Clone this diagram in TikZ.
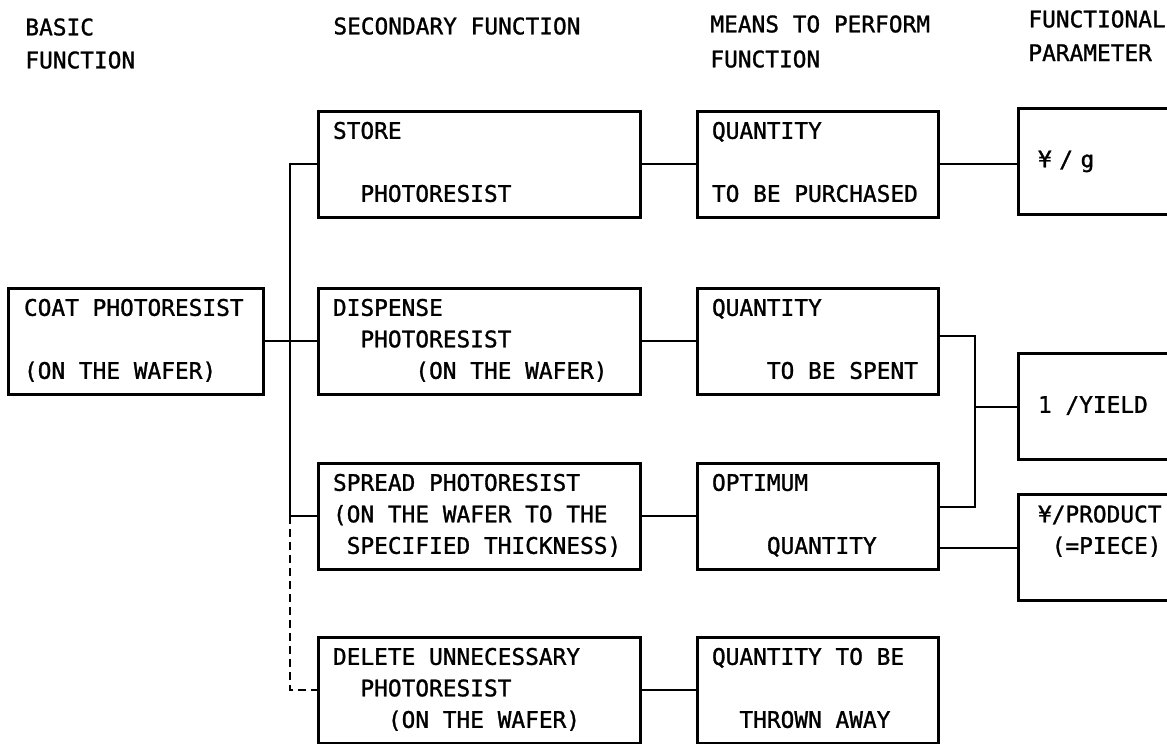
\documentclass[tikz,border=0pt]{standalone}
\usepackage{fontspec}
\usepackage{tikz}
\newfontfamily\dgmfont{DejaVu Sans Mono}[FakeBold=1.2]
\newcommand\ind[1]{\hspace*{#1\fontcharwd\font`\X}}
\newcommand\threelines[3]{\noindent\spaceskip=0pt\xspaceskip=0pt\strut#1\\\strut#2\\\strut#3}

\begin{document}
\begin{tikzpicture}[x=0.5pt, y=-0.5pt,
    head/.style={font=\dgmfont\fontsize{11.4pt}{16.5pt}\selectfont, inner sep=0pt, anchor=north west},
    box/.style={draw, line width=1.5pt, inner ysep=0pt, minimum height=53pt, align=left,
      font=\dgmfont\fontsize{11.4pt}{15.75pt}\selectfont},
    basicbox/.style={box, inner xsep=8pt, text width=111.5pt},
    secbox/.style={box, inner xsep=7.5pt, text width=146pt},
    meanbox/.style={box, inner xsep=7.5pt, text width=105.5pt},
    parbox/.style={box, inner xsep=10pt, text width=80pt},
    link/.style={line width=1pt},
    dashlink/.style={line width=1pt, dash pattern=on 4pt off 2.5pt}]
    \useasboundingbox (0,0) rectangle (1167,744);
    \clip (0,0) rectangle (1167,744);

    \node[head] (hbasic) at (25,18) {BASIC};
    \node[head] (hbasic2) at (25,51) {FUNCTION};
    \node[head] (hsecond) at (333,17) {SECONDARY FUNCTION};
    \node[head] (hmeans) at (710,15) {MEANS TO PERFORM};
    \node[head] (hmeans2) at (710,50) {FUNCTION};
    \node[head] (hparam) at (1028,10) {FUNCTIONAL};
    \node[head] (hparam2) at (1028,44) {PARAMETER};

    \node[basicbox] (coat) at (135.5,341) {\threelines{COAT PHOTORESIST}{}{(ON THE WAFER)}};

    \node[secbox] (store) at (479,164) {\threelines{STORE}{}{\ind{2}PHOTORESIST}};
    \node[secbox] (dispense) at (479,341) {\threelines{DISPENSE}{\ind{2}PHOTORESIST}{\ind{6}(ON THE WAFER)}};
    \node[secbox] (spread) at (479,516) {\threelines{SPREAD PHOTORESIST}{(ON THE WAFER TO THE}{\ind{1}SPECIFIED THICKNESS)}};
    \node[secbox] (delete) at (479,690) {\threelines{DELETE UNNECESSARY}{\ind{2}PHOTORESIST}{\ind{4}(ON THE WAFER)}};

    \node[meanbox] (qbuy) at (817.5,164) {\threelines{QUANTITY}{}{TO BE PURCHASED}};
    \node[meanbox] (qspend) at (817.5,341) {\threelines{QUANTITY}{}{\ind{4}TO BE SPENT}};
    \node[meanbox] (optimum) at (817.5,516) {\threelines{OPTIMUM}{}{\ind{4}QUANTITY}};
    \node[meanbox] (qthrow) at (817.5,690) {\threelines{QUANTITY TO BE}{}{\ind{2}THROWN AWAY}};

    \node[parbox] (pyen) at (1118,161) {\threelines{}{¥\ind{0.55}/\ind{0.55}g}{}};
    \node[parbox] (pyield) at (1118,406.5) {\threelines{}{1 /YIELD}{}};
    \node[parbox] (pprod) at (1118,547.5) {\threelines{¥/PRODUCT}{\ind{1}(=PIECE)}{}};

    \coordinate (trunk) at (290,0);
    \coordinate (merge) at (975,0);
    \coordinate (optin) at ([yshift=4.5pt]optimum.east);
    \coordinate (spendout) at ([yshift=2.5pt]qspend.east);

    \draw[link] (coat.east) -- (dispense.west);
    \draw[link] (store.west) -| (trunk |- spread.west) -- (spread.west);
    \draw[dashlink] (trunk |- spread.west) |- (delete.west);

    \draw[link] (store.east) -- (qbuy.west);
    \draw[link] (dispense.east) -- (qspend.west);
    \draw[link] (spread.east) -- (optimum.west);
    \draw[link] (delete.east) -- (qthrow.west);

    \draw[link] (qbuy.east) -- (qbuy.east -| pyen.west);
    \draw[link] (spendout) -| (merge |- optin) -- (optin);
    \draw[link] (merge |- pyield.west) -- (pyield.west);
    \draw[link] (optimum.east |- pprod.west) -- (pprod.west);
  \end{tikzpicture}
\end{document}
